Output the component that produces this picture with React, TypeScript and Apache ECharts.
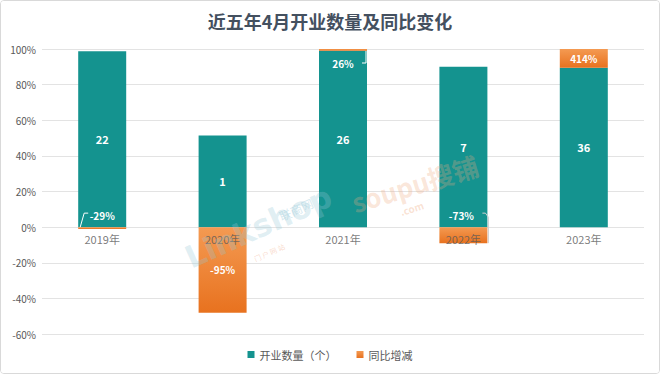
import React, { useEffect, useRef } from "react";
import * as echarts from "echarts";

const categories = ["2019年", "2020年", "2021年", "2022年", "2023年"];
// bar heights as drawn on the percentage axis
const openHeights = [98.8, 51.5, 99, 90, 89.5];
const yoyHeights = [-1, -48, 1, -9, 10.5];
// label texts shown on the bars
const openLabels = ["22", "1", "26", "7", "36"];
const yoyLabels = ["-29%", "-95%", "26%", "-73%", "414%"];
const yTicks = [-60, -40, -20, 0, 20, 40, 60, 80, 100];

const TEAL = "#14938F";
const FONT = "Noto Sans CJK SC";
const BAR_W = 48;

export default function App() {
  const ref = useRef<HTMLDivElement>(null);
  useEffect(() => {
    document.body.style.margin = "0";
    const chart = echarts.init(ref.current!, null, { renderer: "svg" });
    const moves: Record<number, { dx: number; dy: number }> = {
      0: { dx: 0, dy: -13 },
      2: { dx: 0, dy: 14 },
      3: { dx: -2, dy: -20 },
    };
    const watermark = [
      {
        type: "text",
        x: 192,
        y: 272,
        rotation: 0.42,
        z: 100,
        silent: true,
        style: {
          text: "Linkshop",
          fontFamily: "DejaVu Sans",
          fontWeight: "bold",
          fontSize: 31,
          fill: "rgba(150,200,215,0.3)",
          textVerticalAlign: "bottom",
        },
      },
      {
        type: "text",
        x: 276,
        y: 210,
        rotation: 0.42,
        z: 100,
        silent: true,
        style: {
          text: "联商网",
          fontFamily: FONT,
          fontSize: 12,
          fill: "rgba(150,200,215,0.4)",
        },
      },
      {
        type: "text",
        x: 252,
        y: 255,
        rotation: 0.42,
        z: 100,
        silent: true,
        style: {
          text: "门 户 网 站",
          fontFamily: FONT,
          fontSize: 7,
          fill: "rgba(240,160,120,0.4)",
        },
      },
      {
        type: "text",
        x: 355,
        y: 214,
        rotation: 0.3,
        z: 100,
        silent: true,
        style: {
          text: "soupu搜铺",
          fontFamily: FONT,
          fontWeight: "bold",
          fontSize: 26,
          fill: "rgba(240,170,130,0.3)",
          textVerticalAlign: "bottom",
        },
      },
      {
        type: "text",
        x: 398,
        y: 206,
        rotation: 0.3,
        z: 100,
        silent: true,
        style: {
          text: ".com",
          fontFamily: FONT,
          fontWeight: "bold",
          fontSize: 10,
          fill: "rgba(240,170,130,0.35)",
        },
      },
    ];
    const option: any = {
      animation: false,
      backgroundColor: "#ffffff",
      title: {
        text: "近五年4月开业数量及同比变化",
        left: "center",
        top: 6,
        textStyle: {
          fontFamily: FONT,
          fontSize: 18,
          fontWeight: "bold",
          color: "#44505F",
        },
      },
      grid: { left: 41, right: 15, top: 48, bottom: 39, containLabel: false },
      legend: {
        bottom: 8,
        left: "center",
        itemWidth: 7,
        itemHeight: 7,
        itemGap: 20,
        icon: "rect",
        textStyle: { fontFamily: FONT, fontSize: 11, color: "#595959" },
        data: ["开业数量（个）", "同比增减"],
      },
      graphic: watermark,
      xAxis: {
        type: "category",
        data: categories,
        axisTick: { show: false },
        axisLine: { show: false },
        axisLabel: { show: false },
      },
      yAxis: {
        type: "value",
        min: yTicks[0],
        max: yTicks[yTicks.length - 1],
        interval: 20,
        axisLine: { show: false },
        axisTick: { show: false },
        splitLine: { lineStyle: { color: "#E3E3E3" } },
        axisLabel: {
          formatter: "{value}%",
          fontFamily: FONT,
          fontSize: 10,
          color: "#595959",
          margin: 6,
        },
      },
      series: [
        {
          name: "开业数量（个）",
          type: "bar",
          stack: "s",
          barWidth: BAR_W,
          data: openHeights,
          itemStyle: { color: TEAL },
          label: {
            show: true,
            position: "inside",
            formatter: (p: any) => openLabels[p.dataIndex],
            color: "#fff",
            fontWeight: "bold",
            fontSize: 11,
            fontFamily: FONT,
          },
        },
        {
          name: "同比增减",
          type: "bar",
          stack: "s",
          barWidth: BAR_W,
          data: yoyHeights,
          itemStyle: {
            color: new echarts.graphic.LinearGradient(0, 0, 0, 1, [
              { offset: 0, color: "#F49A52" },
              { offset: 1, color: "#E8721F" },
            ]),
          },
          label: {
            show: true,
            position: "inside",
            formatter: (p: any) => yoyLabels[p.dataIndex],
            color: "#fff",
            fontWeight: "bold",
            fontSize: 10,
            fontFamily: FONT,
          },
          labelLayout: (p: any) => moves[p.dataIndex] || {},
        },
        {
          name: "categoryLabels",
          type: "scatter",
          data: categories.map((c) => [c, 0]),
          symbolSize: 0,
          silent: true,
          z: 5,
          label: {
            show: true,
            position: "bottom",
            distance: 6,
            formatter: (p: any) => categories[p.dataIndex],
            fontFamily: FONT,
            fontSize: 11,
            color: "#595959",
          },
        },
      ],
    };
    chart.setOption(option);

    // leader lines for the moved labels, placed through the chart's own scales
    const px = (i: number, v: number) =>
      chart.convertToPixel({ gridIndex: 0 }, [categories[i], v]) as number[];
    const half = BAR_W / 2;
    const lineStyle = { stroke: "#ffffff", lineWidth: 1, fill: null };
    const leaders: any[] = [];
    {
      const [cx, y0] = px(0, 0);
      leaders.push({
        type: "polyline",
        z: 50,
        silent: true,
        shape: { points: [[cx - half + 2, y0], [cx - half + 6, y0 - 14], [cx - half + 10, y0 - 14]] },
        style: lineStyle,
      });
    }
    {
      const [cx, yTop] = px(2, openHeights[2] + yoyHeights[2]);
      leaders.push({
        type: "polyline",
        z: 50,
        silent: true,
        shape: { points: [[cx + half - 1, yTop + 2], [cx + half - 1, yTop + 14], [cx + half - 5, yTop + 14]] },
        style: lineStyle,
      });
    }
    {
      const [cx, y0] = px(3, 0);
      const [, yb] = px(3, yoyHeights[3]);
      leaders.push({
        type: "polyline",
        z: 50,
        silent: true,
        shape: { points: [[cx + half - 5, y0 - 14], [cx + half - 2, y0 - 14], [cx + half + 1, y0 - 10], [cx + half + 1, yb]] },
        style: { stroke: "#cfcfcf", lineWidth: 1, fill: null },
      });
    }
    chart.setOption({ graphic: [...watermark, ...leaders] }, { replaceMerge: ["graphic"] });
    return () => chart.dispose();
  }, []);
  return (
    <div
      style={{
        width: 660,
        height: 374,
        boxSizing: "border-box",
        border: "1px solid #D9D9D9",
        borderRadius: 4,
        overflow: "hidden",
      }}
    >
      <div ref={ref} style={{ width: 658, height: 372 }} />
    </div>
  );
}
